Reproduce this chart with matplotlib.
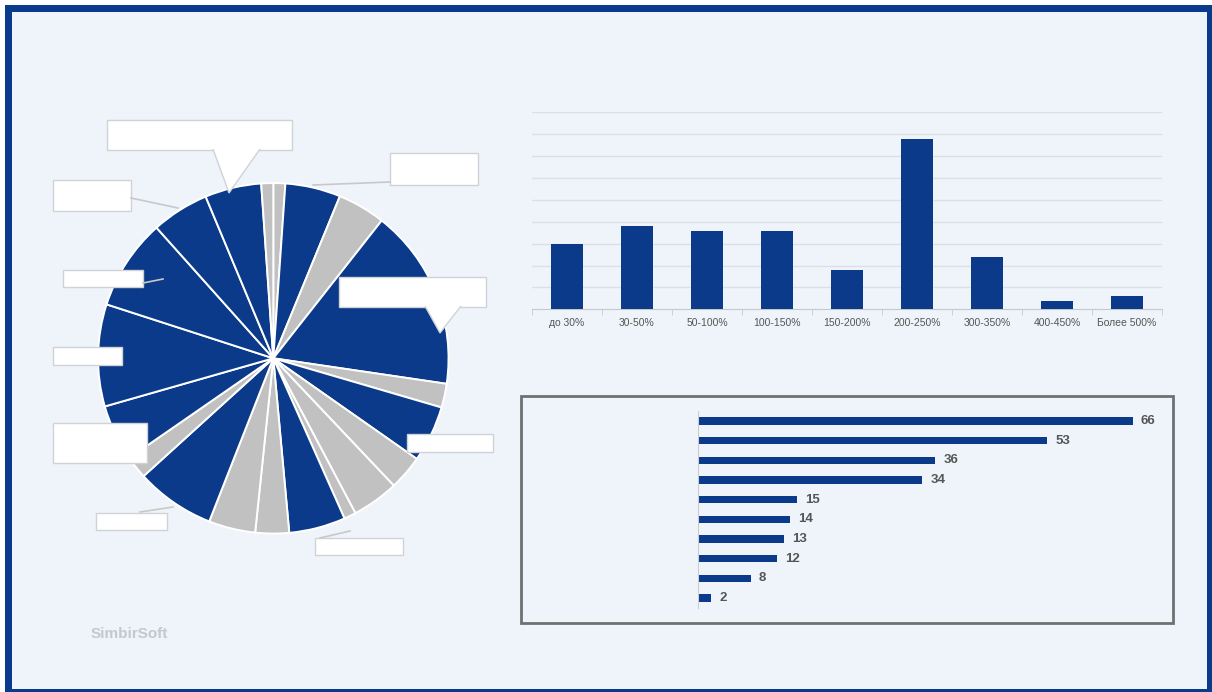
import matplotlib
matplotlib.use('Agg')
import matplotlib.pyplot as plt
from matplotlib.patches import Rectangle, Polygon
import numpy as np

plt.rcParams['font.family'] = ['Liberation Sans', 'DejaVu Sans']

# данные круговой диаграммы (доли, по часовой стрелке от 12 часов)
pie_shares = [1.1, 5.1, 4.4, 16.7, 2.2, 5.2, 3.2, 4.3, 1.1, 5.2,
              3.1, 4.3, 7.3, 2.1, 5.2, 9.4, 8.4, 5.3, 5.2, 1.1]
# 1 - выделенный сегмент (синий), 0 - серый
pie_groups = [0, 1, 0, 1, 0, 1, 0, 0, 0, 1,
              0, 0, 1, 0, 1, 1, 1, 1, 1, 0]

# столбчатая диаграмма
roi_labels = ['до 30%', '30-50%', '50-100%', '100-150%', '150-200%',
              '200-250%', '300-350%', '400-450%', 'Более 500%']
roi_counts = [15, 19, 18, 18, 9, 39, 12, 2, 3]

# горизонтальная диаграмма
hbar_values = [66, 53, 36, 34, 15, 14, 13, 12, 8, 2]

BLUE = '#0b3a8b'
GREY = '#c1c1c1'
W, H = 1212, 692

fig = plt.figure(figsize=(W / 100, H / 100), dpi=100)
fig.patch.set_facecolor('white')


def px_axes(left, top, width, height, **kw):
    return fig.add_axes([left / W, (H - top - height) / H, width / W, height / H], **kw)


# фон и рамка
bg = fig.add_axes([0, 0, 1, 1], zorder=0)
bg.set_xlim(0, W)
bg.set_ylim(H, 0)
bg.axis('off')
bg.add_patch(Rectangle((5, 5), W - 5, H - 5, facecolor='#0a3a8c', edgecolor='none'))
bg.add_patch(Rectangle((12, 12), W - 17, H - 15, facecolor='#eff4fb', edgecolor='none'))

# круговая диаграмма
cx, cy, r = 273.3, 358.3, 177
ax_pie = px_axes(cx - r, cy - r, 2 * r, 2 * r, zorder=1)
ax_pie.pie(pie_shares, colors=[BLUE if g else GREY for g in pie_groups],
           startangle=90, counterclock=False, radius=1,
           wedgeprops=dict(edgecolor='white', linewidth=1.4))
ax_pie.set_xlim(-1.01, 1.01)
ax_pie.set_ylim(-1.01, 1.01)
ax_pie.set_aspect('equal')
ax_pie.axis('off')

# столбчатая диаграмма
ax_bar = px_axes(532, 112.3, 630, 197, zorder=1)
ax_bar.patch.set_alpha(0)
x = np.arange(len(roi_labels))
ax_bar.bar(x, roi_counts, width=0.47, color=BLUE, zorder=3)
ax_bar.set_xlim(-0.5, len(roi_labels) - 0.5)
ax_bar.set_ylim(0, 45)
ax_bar.set_yticks(np.arange(5, 46, 5))
ax_bar.yaxis.grid(True, color='#dcdfe3', linewidth=1)
ax_bar.tick_params(axis='y', length=0, labelleft=False)
ax_bar.set_xticks(x)
ax_bar.set_xticklabels(roi_labels, fontsize=7.5, color='#555555')
ax_bar.tick_params(axis='x', length=0, pad=6)
ax_bar.set_xticks(np.arange(-0.5, len(roi_labels), 1), minor=True)
ax_bar.tick_params(axis='x', which='minor', length=4, color='#c8c8c8')
for s in ['top', 'right', 'left']:
    ax_bar.spines[s].set_visible(False)
ax_bar.spines['bottom'].set_color('#c8c8c8')
ax_bar.set_axisbelow(True)

# горизонтальная диаграмма
ax_h = px_axes(698, 411.2, 461, 196.6, zorder=1)
ax_h.patch.set_alpha(0)
y = np.arange(len(hbar_values))
ax_h.barh(y, hbar_values, height=0.37, color=BLUE)
ax_h.set_xlim(0, 70)
ax_h.set_ylim(len(hbar_values) - 0.5, -0.5)
for yi, v in zip(y, hbar_values):
    ax_h.annotate(str(v), (v, yi), xytext=(6, 0), textcoords='offset points',
                  va='center', ha='left', fontsize=9.5, fontweight='bold', color='#555555')
ax_h.set_xticks([])
ax_h.set_yticks([])
for s in ['top', 'right', 'bottom']:
    ax_h.spines[s].set_visible(False)
ax_h.spines['left'].set_color('#cccccc')

# верхний слой: подписи-выноски, рамка, логотип
ov = fig.add_axes([0, 0, 1, 1], zorder=5)
ov.set_xlim(0, W)
ov.set_ylim(H, 0)
ov.axis('off')
ov.patch.set_alpha(0)

ov.add_patch(Rectangle((521, 396), 652, 227, facecolor='none', edgecolor='#707070', linewidth=2))

box_edge = '#cfd2d6'
callouts = [
    (107, 120, 185, 30),
    (390, 153, 88, 32),
    (53, 180, 78, 31),
    (63, 270, 80, 17),
    (53, 347, 69, 18),
    (53, 423, 94, 40),
    (96, 513, 71, 17),
    (315, 538, 88, 17),
    (407, 434, 86, 18),
    (339, 277, 147, 30),
]
leaders = [
    ((390, 182), (313, 185)),
    ((131, 198), (178, 208)),
    ((143, 283), (163, 279)),
    ((140, 512), (173, 507)),
    ((320, 538), (350, 531)),
]
for a, b in leaders:
    ov.plot([a[0], b[0]], [a[1], b[1]], color='#c8c8c8', linewidth=1.2)
for bx, by, bw, bh in callouts:
    ov.add_patch(Rectangle((bx, by), bw, bh, facecolor='white', edgecolor=box_edge, linewidth=1))
pointers = [
    [(213, 149), (229, 193), (260, 149)],
    [(425, 306), (440, 333), (461, 306)],
]
for pts in pointers:
    ov.add_patch(Polygon(pts, closed=False, facecolor='white', edgecolor=box_edge, linewidth=1))

ov.text(129, 634, 'SimbirSoft', fontsize=11, fontweight='bold', color='#c3c7cf',
        ha='center', va='center')

fig.savefig('out.png', dpi=100)
